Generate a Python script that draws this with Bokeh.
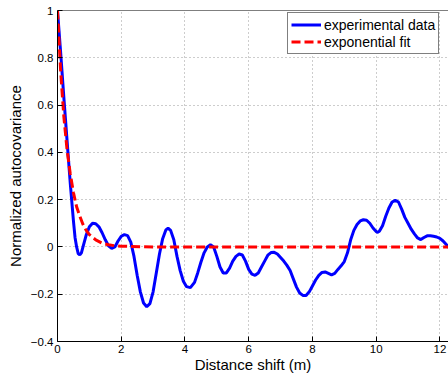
from bokeh.plotting import figure
from bokeh.models import Range1d, FixedTicker, Span
from bokeh.embed import file_html
from bokeh.resources import INLINE

# experimental autocovariance
shift_m = [0.0, 0.1, 0.2, 0.3, 0.4, 0.5, 0.55, 0.6, 0.65, 0.7, 0.75, 0.8, 0.9, 1.0,
           1.1, 1.2, 1.3, 1.4, 1.5, 1.6, 1.7, 1.8, 1.9, 2.0, 2.1, 2.2, 2.3, 2.4,
           2.5, 2.6, 2.7, 2.8, 2.9, 3.0, 3.1, 3.2, 3.3, 3.4, 3.47, 3.55, 3.65, 3.75,
           3.85, 3.95, 4.05, 4.17, 4.3, 4.4, 4.5, 4.6, 4.7, 4.8, 4.9, 5.0, 5.1, 5.2,
           5.3, 5.4, 5.5, 5.6, 5.7, 5.8, 5.9, 6.0, 6.1, 6.2, 6.3, 6.4, 6.5, 6.6,
           6.7, 6.8, 6.9, 7.0, 7.1, 7.2, 7.3, 7.4, 7.5, 7.6, 7.7, 7.8, 7.9, 8.0,
           8.1, 8.2, 8.3, 8.4, 8.5, 8.6, 8.7, 8.8, 8.9, 9.0, 9.1, 9.2, 9.3, 9.4,
           9.5, 9.6, 9.7, 9.8, 9.9, 10.0, 10.05, 10.1, 10.2, 10.3, 10.4, 10.5, 10.6,
           10.7, 10.8, 10.9, 11.0, 11.1, 11.2, 11.3, 11.4, 11.5, 11.6, 11.7, 11.8,
           11.9, 12.0, 12.1, 12.2, 12.3, 12.5]
autocov = [1.0, 0.82, 0.63, 0.45, 0.27, 0.11, 0.04, 0.0, -0.028, -0.034, -0.025, 0.0, 0.05, 0.085,
           0.1, 0.098, 0.085, 0.06, 0.03, 0.005, -0.006, 0.0, 0.025, 0.045, 0.052, 0.048, 0.02, -0.04,
           -0.12, -0.19, -0.237, -0.253, -0.24, -0.19, -0.11, -0.03, 0.035, 0.072, 0.079, 0.07, 0.03, -0.04,
           -0.1, -0.145, -0.168, -0.172, -0.15, -0.11, -0.065, -0.025, 0.0, 0.009, 0.0, -0.04, -0.085, -0.11,
           -0.11, -0.09, -0.06, -0.04, -0.03, -0.034, -0.06, -0.095, -0.115, -0.12, -0.11, -0.085, -0.06, -0.035,
           -0.024, -0.023, -0.03, -0.045, -0.06, -0.078, -0.1, -0.135, -0.17, -0.195, -0.205, -0.205, -0.19, -0.165,
           -0.14, -0.12, -0.108, -0.106, -0.112, -0.118, -0.112, -0.095, -0.08, -0.062, -0.025, 0.03, 0.07, 0.095,
           0.11, 0.115, 0.113, 0.1, 0.08, 0.065, 0.062, 0.066, 0.09, 0.13, 0.165, 0.19, 0.197,
           0.19, 0.16, 0.125, 0.1, 0.075, 0.055, 0.038, 0.031, 0.04, 0.047, 0.047, 0.045,
           0.042, 0.036, 0.025, 0.01, -0.005, -0.02]

# exponential fit
fit_shift_m = [0.0, 0.1, 0.2, 0.3, 0.4, 0.5, 0.6, 0.7, 0.8, 0.9, 1.0, 1.2, 1.4, 1.6, 1.8, 2.0,
               3.0, 4.0, 6.0, 8.0, 10.0, 12.5]
fit_autocov = [1.0, 0.74, 0.55, 0.41, 0.31, 0.23, 0.17, 0.13, 0.095, 0.07, 0.052, 0.03, 0.016,
               0.009, 0.005, 0.003, 0.0, 0.0, 0.0, 0.0, 0.0, 0.0]

x_ticks = [0, 2, 4, 6, 8, 10, 12]
y_ticks = [-0.4, -0.2, 0, 0.2, 0.4, 0.6, 0.8, 1]
y_tick_labels = ["\u22120.4", "\u22120.2", "0", "0.2", "0.4", "0.6", "0.8", "1"]

FONT = "Liberation Sans"

p = figure(width=448, height=375, output_backend="svg", toolbar_location=None,
           x_range=Range1d(0, 12.27), y_range=Range1d(-0.4, 1.0),
           min_border_left=57, min_border_right=0, min_border_top=10, min_border_bottom=34)
p.outline_line_color = None
p.background_fill_color = "white"
p.border_fill_color = "white"

for g in (p.xgrid[0], p.ygrid[0]):
    g.grid_line_color = "#9a9a9a"
    g.grid_line_dash = "1 3"
    g.grid_line_width = 1
p.xgrid.ticker = FixedTicker(ticks=x_ticks)
p.ygrid.ticker = FixedTicker(ticks=y_ticks)

# top frame border
p.add_layout(Span(location=max(y_ticks), dimension="width", line_color="black", line_width=1))

p.line(shift_m, autocov, line_color="#0000ff", line_width=3, legend_label="experimental data")
p.line(fit_shift_m, fit_autocov, line_color="#ff0000", line_width=3, line_dash="9 4",
       legend_label="exponential fit")

for ax in (p.xaxis[0], p.yaxis[0]):
    ax.major_tick_in = 5
    ax.major_tick_out = 0
    ax.minor_tick_line_color = None
    ax.axis_line_color = "black"
    ax.major_tick_line_color = "black"
    ax.major_label_text_font = FONT
    ax.major_label_text_font_size = "11.5px"
    ax.major_label_text_color = "black"
    ax.axis_label_text_font = FONT
    ax.axis_label_text_font_size = "15px"
    ax.axis_label_text_font_style = "normal"
    ax.axis_label_text_color = "black"

p.xaxis.ticker = FixedTicker(ticks=x_ticks)
p.yaxis.ticker = FixedTicker(ticks=y_ticks)
p.yaxis.major_label_overrides = {t: l for t, l in zip(y_ticks, y_tick_labels)}
p.xaxis.axis_label = "Distance shift (m)"
p.yaxis.axis_label = "Normalized autocovariance"
p.xaxis.major_label_standoff = 3
p.xaxis.axis_label_standoff = 0
p.yaxis.major_label_standoff = 4
p.yaxis.axis_label_standoff = 4

lg = p.legend[0]
lg.location = (230, 287)
lg.border_line_color = "black"
lg.border_line_width = 1
lg.background_fill_color = "white"
lg.background_fill_alpha = 1
lg.padding = 3
lg.spacing = 0
lg.margin = 0
lg.label_text_font = FONT
lg.label_text_font_size = "14px"
lg.label_text_color = "black"
lg.glyph_width = 30
lg.glyph_height = 17
lg.label_height = 17
lg.label_standoff = 3

open("out.html", "w").write(file_html(p, INLINE))
